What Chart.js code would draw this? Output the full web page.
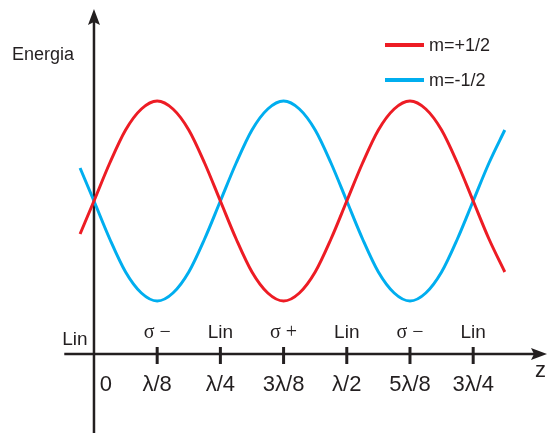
<!DOCTYPE html>
<html>
<head>
<meta charset="utf-8">
<script src="https://cdn.jsdelivr.net/npm/chart.js@4"></script>
<style>
    body { margin: 0; background: #fff; }
    #wrap { width: 547px; height: 433px; }
</style>
</head>
<body>
<div id="wrap"><canvas id="energy-chart" width="547" height="433"></canvas></div>
<script>
// positions along z, in units of lambda/8
const zPos = [-0.22, 0, 0.25, 0.5, 0.75, 1, 1.25, 1.5, 1.75, 2, 2.25, 2.5, 2.75, 3, 3.25, 3.5, 3.75,
    4, 4.25, 4.5, 4.75, 5, 5.25, 5.5, 5.75, 6, 6.25, 6.5];
const mPlus = [-0.33, 0, 0.38, 0.71, 0.92, 1, 0.92, 0.71, 0.38, 0, -0.38, -0.71, -0.92, -1, -0.92, -0.71, -0.38,
    0, 0.38, 0.71, 0.92, 1, 0.92, 0.71, 0.38, 0, -0.38, -0.71];
const mMinus = [0.33, 0, -0.38, -0.71, -0.92, -1, -0.92, -0.71, -0.38, 0, 0.38, 0.71, 0.92, 1, 0.92, 0.71, 0.38,
    0, -0.38, -0.71, -0.92, -1, -0.92, -0.71, -0.38, 0, 0.38, 0.71];
const tickPos = [0, 1, 2, 3, 4, 5, 6];
const zLabels = ['0', 'λ/8', 'λ/4', '3λ/8', 'λ/2', '5λ/8', '3λ/4'];
const polLabels = ['Lin', 'σ −', 'Lin', 'σ +', 'Lin', 'σ −', 'Lin'];
const seriesNames = ['m=+1/2', 'm=-1/2'];

const ink = '#231f20';
const axisLevel = -1.53;   // energy level where the z axis sits

function toPoints(values) {
    return zPos.map((z, i) => ({ x: z, y: values[i] }));
}

function arrow(ctx, x, y, dir) {
    // dir: 'up' or 'right'
    ctx.save();
    ctx.translate(x, y);
    if (dir === 'right') ctx.rotate(Math.PI / 2);
    ctx.beginPath();
    ctx.moveTo(0, 0);
    ctx.lineTo(6, 16);
    ctx.lineTo(0, 13);
    ctx.lineTo(-6, 16);
    ctx.closePath();
    ctx.fill();
    ctx.restore();
}

const axesPlugin = {
    id: 'axes',
    beforeDatasetsDraw(chart) {
        const ctx = chart.ctx;
        const xs = chart.scales.x, ys = chart.scales.y;
        const x0 = xs.getPixelForValue(0);
        const yAxis = ys.getPixelForValue(axisLevel);
        ctx.save();
        ctx.strokeStyle = ink;
        ctx.fillStyle = ink;
        ctx.lineWidth = 2.5;
        // energy axis
        ctx.beginPath();
        ctx.moveTo(x0, ys.getPixelForValue(ys.min));
        ctx.lineTo(x0, ys.getPixelForValue(1.8));
        ctx.stroke();
        arrow(ctx, x0, ys.getPixelForValue(1.92), 'up');
        // z axis
        ctx.beginPath();
        ctx.moveTo(xs.getPixelForValue(-0.47), yAxis);
        ctx.lineTo(xs.getPixelForValue(xs.max) - 8, yAxis);
        ctx.stroke();
        arrow(ctx, xs.getPixelForValue(xs.max), yAxis, 'right');
        // tick marks
        ctx.lineWidth = 3;
        tickPos.slice(1).forEach(t => {
            const px = xs.getPixelForValue(t);
            ctx.beginPath();
            ctx.moveTo(px, yAxis - 7);
            ctx.lineTo(px, yAxis + 10);
            ctx.stroke();
        });
        ctx.restore();
    },
    afterDraw(chart) {
        const ctx = chart.ctx;
        const xs = chart.scales.x, ys = chart.scales.y;
        const yAxis = ys.getPixelForValue(axisLevel);
        ctx.save();
        ctx.fillStyle = ink;
        ctx.textAlign = 'center';
        ctx.textBaseline = 'alphabetic';
        tickPos.forEach((t, i) => {
            let px = xs.getPixelForValue(t);
            // labels below the axis
            ctx.font = '22px "Liberation Sans", Arial, sans-serif';
            ctx.fillText(zLabels[i], i === 0 ? px + 12 : px, yAxis + 37);
            // polarisation above the axis
            const pol = polLabels[i];
            ctx.font = pol === 'Lin' ? '19px "Liberation Sans", Arial, sans-serif'
                                     : '20px "Liberation Serif", "Times New Roman", serif';
            ctx.fillText(pol, i === 0 ? px - 19 : px, i === 0 ? yAxis - 9 : yAxis - 16);
        });
        // z label
        ctx.font = '22px "Liberation Sans", Arial, sans-serif';
        ctx.textAlign = 'left';
        ctx.fillText('z', 535, yAxis + 23);
        // y title
        ctx.font = '18px "Liberation Sans", Arial, sans-serif';
        ctx.fillText('Energia', 12, 60);
        // legend
        ctx.textBaseline = 'middle';
        chart.data.datasets.forEach((ds, i) => {
            const ly = 45 + i * 35;
            ctx.strokeStyle = ds.borderColor;
            ctx.lineWidth = 4;
            ctx.beginPath();
            ctx.moveTo(385, ly);
            ctx.lineTo(424, ly);
            ctx.stroke();
            ctx.fillStyle = ink;
            ctx.fillText(ds.label, 429, ly + 1);
        });
        ctx.restore();
    }
};

new Chart(
    document.getElementById('energy-chart').getContext('2d'),
    {
        type: 'line',
        data: {
            datasets: [
                {
                    label: seriesNames[0],
                    data: toPoints(mPlus),
                    borderColor: '#ed1c24',
                    borderWidth: 3,
                    pointRadius: 0,
                    cubicInterpolationMode: 'monotone',
                },
                {
                    label: seriesNames[1],
                    data: toPoints(mMinus),
                    borderColor: '#00aeef',
                    borderWidth: 3,
                    pointRadius: 0,
                    cubicInterpolationMode: 'monotone',
                },
            ],
        },
        options: {
            responsive: false,
            animation: false,
            layout: { padding: 0 },
            plugins: {
                legend: { display: false },
                tooltip: { enabled: false },
            },
            scales: {
                x: { type: 'linear', display: false, min: -1.487, max: 7.168 },
                y: { type: 'linear', display: false, min: -2.32, max: 2.01 },
            },
        },
        plugins: [axesPlugin],
    }
);
</script>
</body>
</html>
